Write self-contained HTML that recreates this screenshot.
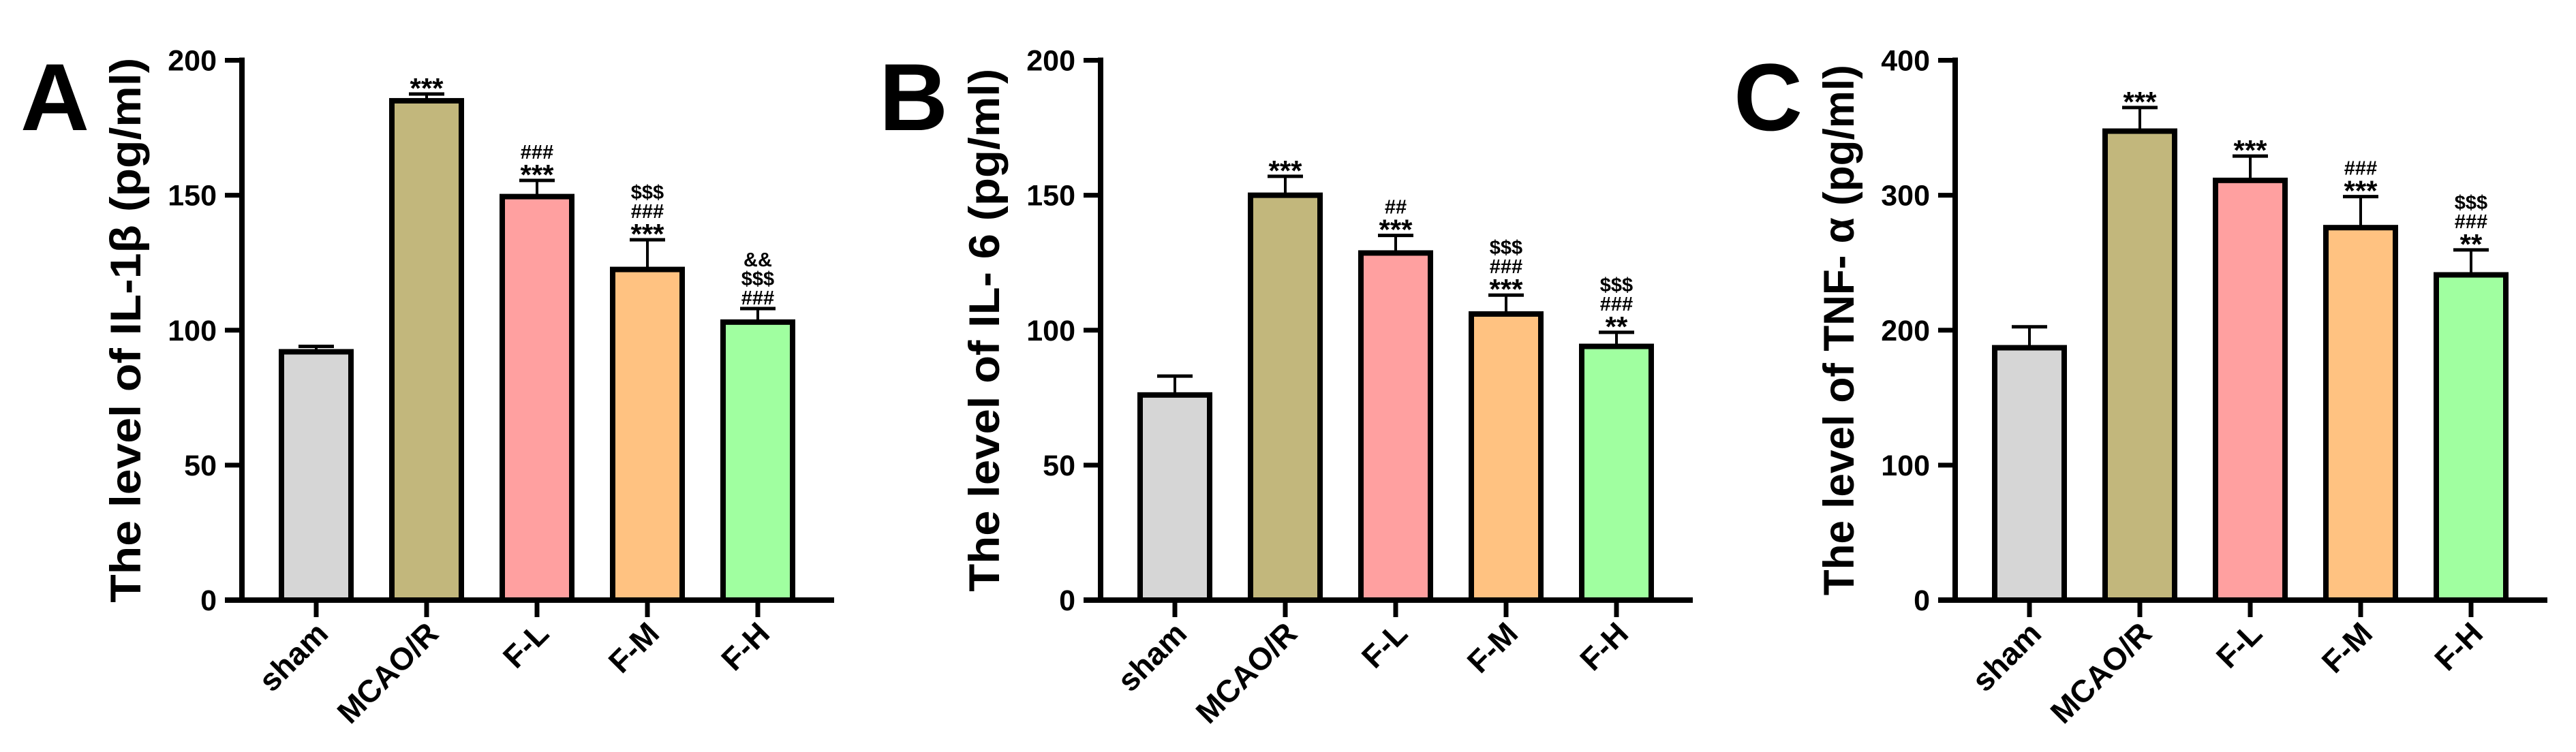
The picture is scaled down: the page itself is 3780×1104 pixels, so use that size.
<!DOCTYPE html>
<html><head><meta charset="utf-8"><style>
html,body{margin:0;padding:0;background:#fff;overflow:hidden;}
svg{display:block;}
text{font-family:"Liberation Sans",sans-serif;font-weight:bold;fill:#000;}
</style></head><body>
<svg id="chart" width="3780" height="1104" viewBox="0 0 3780 1104" xmlns="http://www.w3.org/2000/svg"></svg>
<script>
const categories = ["sham","MCAO/R","F-L","F-M","F-H"];
const colors = ["#d6d6d6","#c2b77c","#ffa0a0","#ffc281","#a0ffa0"];
const valuesA = [92, 185, 149.5, 122.5, 103];
const errorsA = [2, 2.5, 6, 11, 5];
const annotA = [[], ["***"], ["***","###"], ["***","###","$$$"], ["###","$$$","&&"]];
const ticksA = [0, 50, 100, 150, 200];
const valuesB = [76, 150, 128.6, 106, 94];
const errorsB = [7, 7, 6.5, 7, 5.2];
const annotB = [[], ["***"], ["***","##"], ["***","###","$$$"], ["**","###","$$$"]];
const ticksB = [0, 50, 100, 150, 200];
const valuesC = [187, 347.5, 311, 276, 241];
const errorsC = [15.5, 17.5, 18, 23, 18.5];
const annotC = [[], ["***"], ["***"], ["***","###"], ["**","###","$$$"]];
const ticksC = [0, 100, 200, 300, 400];

const NS = "http://www.w3.org/2000/svg";
const svg = document.getElementById("chart");
function mk(tag, attrs, parent, txt){
  const e = document.createElementNS(NS, tag);
  for (const k in attrs) e.setAttribute(k, attrs[k]);
  if (txt !== undefined) e.textContent = txt;
  parent.appendChild(e);
  return e;
}
function panel(key, ox, letter, title, titleLen, values, errors, annots, ticks){
  const g = mk("g", {transform:"translate("+ox+",0)"}, svg);
  
  
  const x0 = 355, y0 = 881, yTop = 88.5, xEnd = 1224;
  const maxV = ticks[ticks.length-1];
  const y = v => y0 - (v / maxV) * (y0 - yTop);
  const xc = i => x0 + 109 + i * 162;
  const bw = 102;
  const L = mk("text", {x:30, y:191, "font-size":140}, g, letter);
  
  
  const t = mk("text", {x:0, y:0, "font-size":63, "text-anchor":"middle", textLength:titleLen, lengthAdjust:"spacingAndGlyphs", transform:"translate(206,"+(y0+yTop)/2+") rotate(-90)"}, g, title);
  
  
  values.forEach((v, i) => {
    const top = y(v), et = y(v + errors[i]);
    const el = mk("line", {x1:xc(i), x2:xc(i), y1:top, y2:et, stroke:"#000","stroke-width":4}, g);
    
    
    const cap = mk("line", {x1:xc(i)-26, x2:xc(i)+26, y1:et, y2:et, stroke:"#000","stroke-width":5}, g);
    
    
    const r = mk("rect", {x:xc(i)-bw/2, y:top, width:bw, height:y0-top, fill:colors[i], stroke:"#000","stroke-width":8}, g);
    
    
    let cursor = et - 6;
    annots[i].forEach((s) => {
      const star = s.startsWith("*");
      const fs = star ? 42 : 29;
      let yy;
      if (star) { yy = cursor + 12; cursor = cursor - 26; }
      else { yy = cursor; cursor = cursor - 28; }
      const a = mk("text", {x:xc(i), y:yy, "font-size":fs, "text-anchor":"middle"}, g, s);
      
      
    });
    const tk = mk("line", {x1:xc(i), x2:xc(i), y1:y0, y2:y0+25, stroke:"#000","stroke-width":7}, g);
    
    
    const lb = mk("text", {x:0, y:0, "font-size":46, "text-anchor":"end", transform:"translate("+(xc(i)+20)+","+(y0+52)+") rotate(-45)"}, g, categories[i]);
    
    
  });
  const ya = mk("line", {x1:x0, x2:x0, y1:yTop-4, y2:y0+4, stroke:"#000","stroke-width":8}, g);
  
  
  const xa = mk("line", {x1:x0-25, x2:xEnd, y1:y0, y2:y0, stroke:"#000","stroke-width":8}, g);
  
  
  ticks.forEach(tv => {
    const tk = mk("line", {x1:x0-25, x2:x0, y1:y(tv), y2:y(tv), stroke:"#000","stroke-width":7}, g);
    
    
    const tl = mk("text", {x:318, y:y(tv)+15, "font-size":43, "text-anchor":"end"}, g, String(tv));
    
    
  });
}
panel("a", 0, "A", "The level of IL-1β (pg/ml)", 800, valuesA, errorsA, annotA, ticksA);
panel("b", 1260, "B", "The level of IL- 6 (pg/ml)", 768, valuesB, errorsB, annotB, ticksB);
panel("c", 2514, "C", "The level of TNF- α (pg/ml)", 779, valuesC, errorsC, annotC, ticksC);
</script>
</body></html>
